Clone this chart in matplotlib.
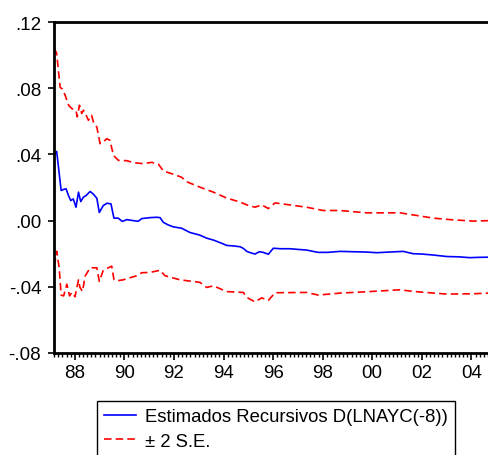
import matplotlib
matplotlib.use("Agg")
import matplotlib.pyplot as plt
from matplotlib.ticker import MultipleLocator, FuncFormatter

plt.rcParams["font.family"] = ["Liberation Sans", "DejaVu Sans"]

# recursive coefficient estimate of D(LNAYC(-8))
coef_x = [1987.21, 1987.27, 1987.45, 1987.58, 1987.65, 1987.75, 1987.84, 1987.94,
          1988.05, 1988.15, 1988.24, 1988.35, 1988.46, 1988.62, 1988.75, 1988.89,
          1988.99, 1989.15, 1989.30, 1989.46, 1989.58, 1989.75, 1989.92, 1990.10,
          1990.35, 1990.56, 1990.70, 1991.04, 1991.30, 1991.44, 1991.57, 1991.75,
          1991.98, 1992.31, 1992.65, 1993.05, 1993.32, 1993.60, 1993.86, 1994.13,
          1994.40, 1994.67, 1994.80, 1994.94, 1995.10, 1995.27, 1995.45, 1995.60,
          1995.81, 1996.01, 1996.30, 1996.68, 1997.00, 1997.35, 1997.82, 1998.20,
          1998.70, 1999.20, 1999.77, 2000.18, 2000.70, 2001.25, 2001.65, 2002.00,
          2002.46, 2003.00, 2003.50, 2003.94, 2004.30, 2004.75]
coef = [0.0404, 0.0418, 0.0182, 0.0190, 0.0192, 0.0150, 0.0121, 0.0131,
        0.0081, 0.0172, 0.0115, 0.0142, 0.0152, 0.0176, 0.0160, 0.0135,
        0.0049, 0.0091, 0.0105, 0.0101, 0.0015, 0.0015, -0.0005, 0.0006,
        0.0000, -0.0004, 0.0012, 0.0018, 0.0020, 0.0018, -0.0010, -0.0025,
        -0.0038, -0.0046, -0.0072, -0.0088, -0.0106, -0.0118, -0.0133, -0.0150,
        -0.0153, -0.0158, -0.0168, -0.0186, -0.0195, -0.0202, -0.0188, -0.0192,
        -0.0203, -0.0167, -0.0170, -0.0170, -0.0174, -0.0178, -0.0192, -0.0192,
        -0.0186, -0.0188, -0.0190, -0.0194, -0.0190, -0.0186, -0.0200, -0.0202,
        -0.0208, -0.0217, -0.0219, -0.0224, -0.0222, -0.0221]

# upper band (+2 S.E.)
upper_x = [1987.18, 1987.27, 1987.38, 1987.41, 1987.50, 1987.61, 1987.75, 1987.88,
           1988.05, 1988.10, 1988.19, 1988.28, 1988.35, 1988.46, 1988.55, 1988.68,
           1988.77, 1988.89, 1989.02, 1989.15, 1989.29, 1989.42, 1989.56, 1989.76,
           1990.10, 1990.37, 1990.77, 1991.10, 1991.37, 1991.57, 1991.98, 1992.31,
           1992.51, 1993.05, 1993.59, 1994.13, 1994.67, 1994.94, 1995.27, 1995.54,
           1995.81, 1996.08, 1996.81, 1997.35, 1998.02, 1998.70, 1999.77, 2001.12,
           2002.46, 2003.13, 2004.07, 2004.75]
upper = [0.1040, 0.1010, 0.0850, 0.0805, 0.0795, 0.0758, 0.0697, 0.0677,
         0.0665, 0.0627, 0.0697, 0.0647, 0.0667, 0.0636, 0.0606, 0.0636,
         0.0586, 0.0566, 0.0465, 0.0475, 0.0495, 0.0485, 0.0394, 0.0364,
         0.0362, 0.0350, 0.0344, 0.0352, 0.0342, 0.0300, 0.0280, 0.0262,
         0.0235, 0.0202, 0.0172, 0.0136, 0.0112, 0.0095, 0.0081, 0.0095,
         0.0073, 0.0107, 0.0092, 0.0081, 0.0061, 0.0061, 0.0047, 0.0047,
         0.0015, 0.0006, -0.0003, 0.0000]

# lower band (-2 S.E.)
lower_x = [1987.18, 1987.27, 1987.37, 1987.45, 1987.55, 1987.68, 1987.79, 1987.88,
           1988.01, 1988.15, 1988.21, 1988.31, 1988.42, 1988.62, 1988.89, 1988.99,
           1989.15, 1989.49, 1989.58, 1989.68, 1989.95, 1990.50, 1990.70, 1991.04,
           1991.44, 1991.64, 1992.25, 1993.05, 1993.32, 1993.59, 1994.13, 1994.80,
           1994.94, 1995.27, 1995.54, 1995.81, 1996.08, 1997.35, 1997.82, 1998.70,
           1999.77, 2001.12, 2001.65, 2003.00, 2004.07, 2004.75]
lower = [-0.0273, -0.0185, -0.0283, -0.0450, -0.0455, -0.0384, -0.0455, -0.0434,
         -0.0460, -0.0358, -0.0404, -0.0428, -0.0335, -0.0285, -0.0285, -0.0367,
         -0.0300, -0.0275, -0.0356, -0.0364, -0.0358, -0.0333, -0.0315, -0.0313,
         -0.0300, -0.0333, -0.0358, -0.0373, -0.0404, -0.0394, -0.0429, -0.0434,
         -0.0464, -0.0491, -0.0467, -0.0482, -0.0436, -0.0434, -0.0450, -0.0438,
         -0.0430, -0.0418, -0.0428, -0.0444, -0.0442, -0.0438]

W, H = 489, 456
fig = plt.figure(figsize=(W / 100, H / 100), dpi=100)
ax = fig.add_axes([53.7 / W, 1 - 354 / H, 1.002 - 53.7 / W, (354 - 23) / H])

ax.plot(coef_x, coef, color="#0000ff", lw=1.2, label="Estimados Recursivos D(LNAYC(-8))")
ax.plot(upper_x, upper, color="#ff0000", lw=1.2, ls=(0, (4.5, 2.5)), label="\u00b1 2 S.E.")
ax.plot(lower_x, lower, color="#ff0000", lw=1.2, ls=(0, (4.5, 2.5)))

ax.set_xlim(1987.15, 2004.75)
ax.set_ylim(-0.08, 0.12)

ax.xaxis.set_major_locator(MultipleLocator(2))
ax.xaxis.set_minor_locator(MultipleLocator(1 / 6))
ax.xaxis.set_major_formatter(FuncFormatter(lambda v, p: f"{int(round(v)) % 100:02d}"))
ax.yaxis.set_major_locator(MultipleLocator(0.04))


def yfmt(v, pos):
    s = f"{round(v, 2):.2f}"
    return s.replace("-0.", "-.").replace("0.", ".")


ax.yaxis.set_major_formatter(FuncFormatter(yfmt))

for side in ["left", "top", "bottom"]:
    ax.spines[side].set_linewidth(2)
ax.spines["right"].set_visible(False)

ax.tick_params(axis="x", which="major", direction="out", length=5, width=1.2, pad=3, labelsize=13.5)
ax.tick_params(axis="x", which="minor", direction="out", length=3, width=1)
ax.tick_params(axis="y", which="major", direction="out", length=4, width=1.2, pad=5, labelsize=13.5)

# legend sits below the plot; its lower edge runs off the figure
fig.legend(loc="upper left", bbox_to_anchor=(96.7 / W, 1 - 401.7 / H),
           bbox_transform=fig.transFigure, borderaxespad=0, fontsize=13.3,
           frameon=True, fancybox=False, edgecolor="black", framealpha=1,
           handlelength=1.75, handletextpad=0.45, borderpad=0.4, labelspacing=0.42)

fig.savefig("out.png", dpi=100)
